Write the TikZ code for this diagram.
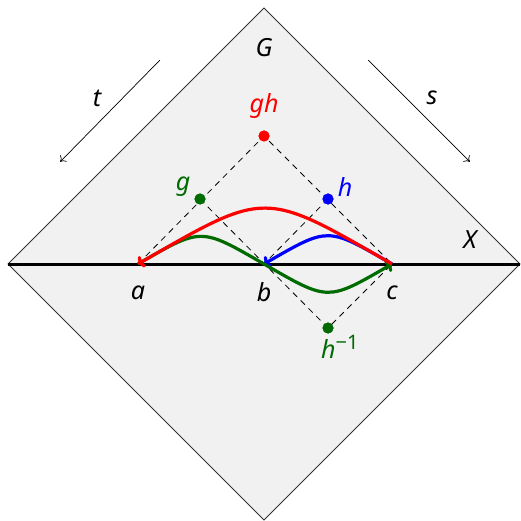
\documentclass[tikz,border=0pt]{standalone}
\usepackage{fontspec}
\setmainfont{Noto Sans}
\usetikzlibrary{arrows.meta}
\definecolor{dgreen}{rgb}{0.0,0.42,0.0}
\definecolor{lgray}{gray}{0.945}
\tikzset{
  lbl/.style={font=\fontsize{25}{29}\selectfont\itshape, inner sep=0pt},
  dashline/.style={draw=black, line width=0.8pt, dash pattern=on 6pt off 5pt},
  curve/.style={line width=3.2pt, -{To[length=6pt,width=13pt]}, looseness=1.5},
  dot/.style={circle, fill, inner sep=0pt, minimum size=11pt},
  pt/.style={inner sep=0pt, minimum size=0pt},
  dirarrow/.style={line width=0.7pt, -{To[length=5pt,width=9pt]}}
}
\begin{document}
\begin{tikzpicture}[x=1pt,y=-1pt]
\useasboundingbox (0,0) rectangle (520,521);
% diamond
\node[pt] (top) at (264,8) {};
\node[pt] (right) at (520,264) {};
\node[pt] (bot) at (264,520) {};
\node[pt] (left) at (8,264) {};
\fill[lgray] (top.center) -- (right.center) -- (bot.center) -- (left.center) -- cycle;
\draw[line width=0.9pt, black!80] (top.center) -- (right.center) -- (bot.center) -- (left.center) -- cycle;
% points on X
\node[pt] (a) at (138,264) {};
\node[pt] (b) at (264,264) {};
\node[pt] (c) at (392,264) {};
\draw[line width=3pt] (left.center) -- (right.center);
% group elements
\node[dot, red] (gh) at (264,136) {};
\node[dot, dgreen] (g) at (200,199) {};
\node[dot, blue] (h) at (328,199) {};
\node[dot, dgreen] (hinv) at (328,328) {};
% dashed
\draw[dashline] (a.center) -- (gh.center) -- (c.center);
\draw[dashline] (g.center) -- (hinv.center) -- (c.center);
\draw[dashline] (h.center) -- (b.center);
\node[dot, red] at (gh) {};
\node[dot, dgreen] at (g) {};
\node[dot, blue] at (h) {};
\node[dot, dgreen] at (hinv) {};
% curves
\draw[curve, blue] (c.center) to[out=150, in=30] (b.center);
\draw[curve, dgreen] (a.center) to[out=30, in=150] (b.center) to[out=-30, in=-150] (c.center);
\draw[curve, red] (c.center) to[out=150, in=30] (a.center);
% labels
\node[lbl] (Glbl) at (264,48) {G};
\node[lbl] (Xlbl) at (470,240) {X};
\node[lbl] (albl) at (138,293) {a};
\node[lbl] (blbl) at (264,292) {b};
\node[lbl] (clbl) at (392,293) {c};
\node[lbl, red] (ghlbl) at (264,106) {gh};
\node[lbl, dgreen] (glbl) at (183,187) {g};
\node[lbl, blue] (hlbl) at (345,187) {h};
\node[lbl, dgreen, anchor=west] (hinvlbl) at (321,347) {h\raisebox{9pt}{\upshape\fontsize{20}{24}\selectfont −1}};
% direction arrows
\node[pt] (t1) at (160,60) {};
\node[pt] (t2) at (60,162) {};
\node[pt] (s1) at (368,60) {};
\node[pt] (s2) at (470,162) {};
\draw[dirarrow] (t1) -- (t2);
\draw[dirarrow] (s1) -- (s2);
\node[lbl] (tlbl) at (97,98) {t};
\node[lbl] (slbl) at (432,98) {s};
\end{tikzpicture}
\end{document}
